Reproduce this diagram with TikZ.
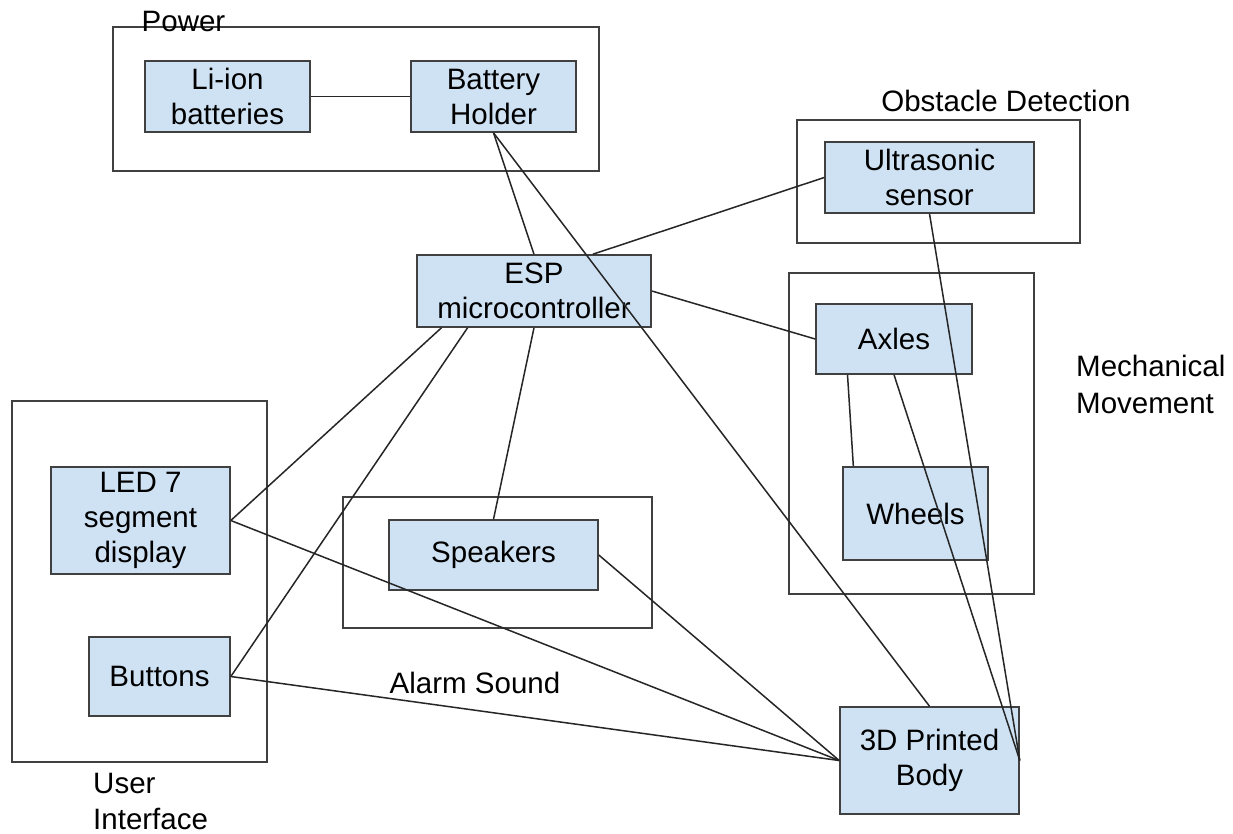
\documentclass[tikz,border=0pt]{standalone}
\usepackage{fontspec}
\setmainfont{Liberation Sans}
\usetikzlibrary{calc}
\definecolor{blkfill}{HTML}{CFE2F3}
\definecolor{blkdraw}{HTML}{404040}
\definecolor{linec}{HTML}{262626}
\tikzset{
  blk/.style={draw=blkdraw, fill=blkfill, line width=1.6pt, inner sep=0pt, align=center,
    font=\fontsize{29.5}{35}\selectfont, text=black},
  grp/.style={draw=blkdraw, line width=1.6pt},
  lbl/.style={font=\fontsize{29.5}{36}\selectfont, inner sep=0pt, text=black},
  conn/.style={draw=linec, line width=1.5pt},
}
\begin{document}
\begin{tikzpicture}[x=1pt,y=-1pt]
\useasboundingbox[fill=white] (0,0) rectangle (1233,833);
% group frames
\draw[grp] (113,27) rectangle (599,171);
\draw[grp] (797,120) rectangle (1080,243);
\draw[grp] (789,273) rectangle (1034,594);
\draw[grp] (12,401) rectangle (267,762);
\draw[grp] (343,497) rectangle (652,628);
% group labels
\node[lbl, anchor=base] (lpower) at (183.5,31.5) {Power};
\node[lbl, anchor=base] (lobst) at (1006,111) {Obstacle Detection};
\node[lbl, anchor=base west] (lmech1) at (1076,376) {Mechanical};
\node[lbl, anchor=base west] (lmech2) at (1076,413) {Movement};
\node[lbl, anchor=base west] (lui1) at (93,793) {User};
\node[lbl, anchor=base west] (lui2) at (93,829) {Interface};
\node[lbl, anchor=base] (lalarm) at (475,693) {Alarm Sound};
% blocks
\node[blk, minimum width=165pt, minimum height=71pt] (li) at (227.5,96.5) {Li-ion\\batteries};
\node[blk, minimum width=165pt, minimum height=71pt] (bh) at (493.5,96.5) {Battery\\Holder};
\node[blk, minimum width=209pt, minimum height=71pt] (us) at (929.5,177.5) {Ultrasonic\\sensor};
\node[blk, minimum width=156pt, minimum height=70pt] (ax) at (894,339) {Axles};
\node[blk, minimum width=145pt, minimum height=93pt] (wh) at (915.5,513.5) {Wheels};
\node[blk, minimum width=179pt, minimum height=107pt] (led) at (140.5,520.5) {LED 7\\segment\\display};
\node[blk, minimum width=141pt, minimum height=79pt] (bt) at (159.5,676.5) {Buttons};
\node[blk, minimum width=209pt, minimum height=70pt] (sp) at (493.5,555) {Speakers};
\node[blk, minimum width=179pt, minimum height=107pt] (body) at (929.5,760.5) {3D Printed\\Body};
% connectors drawn over the blocks
\draw[conn] (li.east) -- (bh.west);
\draw[conn] (us.south) -- (body.east);
\draw[conn] ($(ax.south west)!0.205!(ax.south east)$) -- ($(wh.north west)!0.076!(wh.north east)$);
\draw[conn] (ax.south) -- (body.east);
\draw[conn] (led.east) -- (body.west);
\draw[conn] (bt.east) -- (body.west);
\draw[conn] (sp.east) -- (body.west);
\node[blk, minimum width=234pt, minimum height=72pt] (esp) at (534,291) {ESP\\microcontroller};
\draw[conn] (bh.south) -- (esp.north);
\draw[conn] (bh.south) -- (body.north);
\draw[conn] (us.west) -- ($(esp.north west)!0.75!(esp.north east)$);
\draw[conn] (esp.east) -- (ax.west);
\draw[conn] ($(esp.south west)!0.107!(esp.south east)$) -- (led.east);
\draw[conn] ($(esp.south west)!0.218!(esp.south east)$) -- (bt.east);
\draw[conn] (esp.south) -- (sp.north);
\end{tikzpicture}
\end{document}
